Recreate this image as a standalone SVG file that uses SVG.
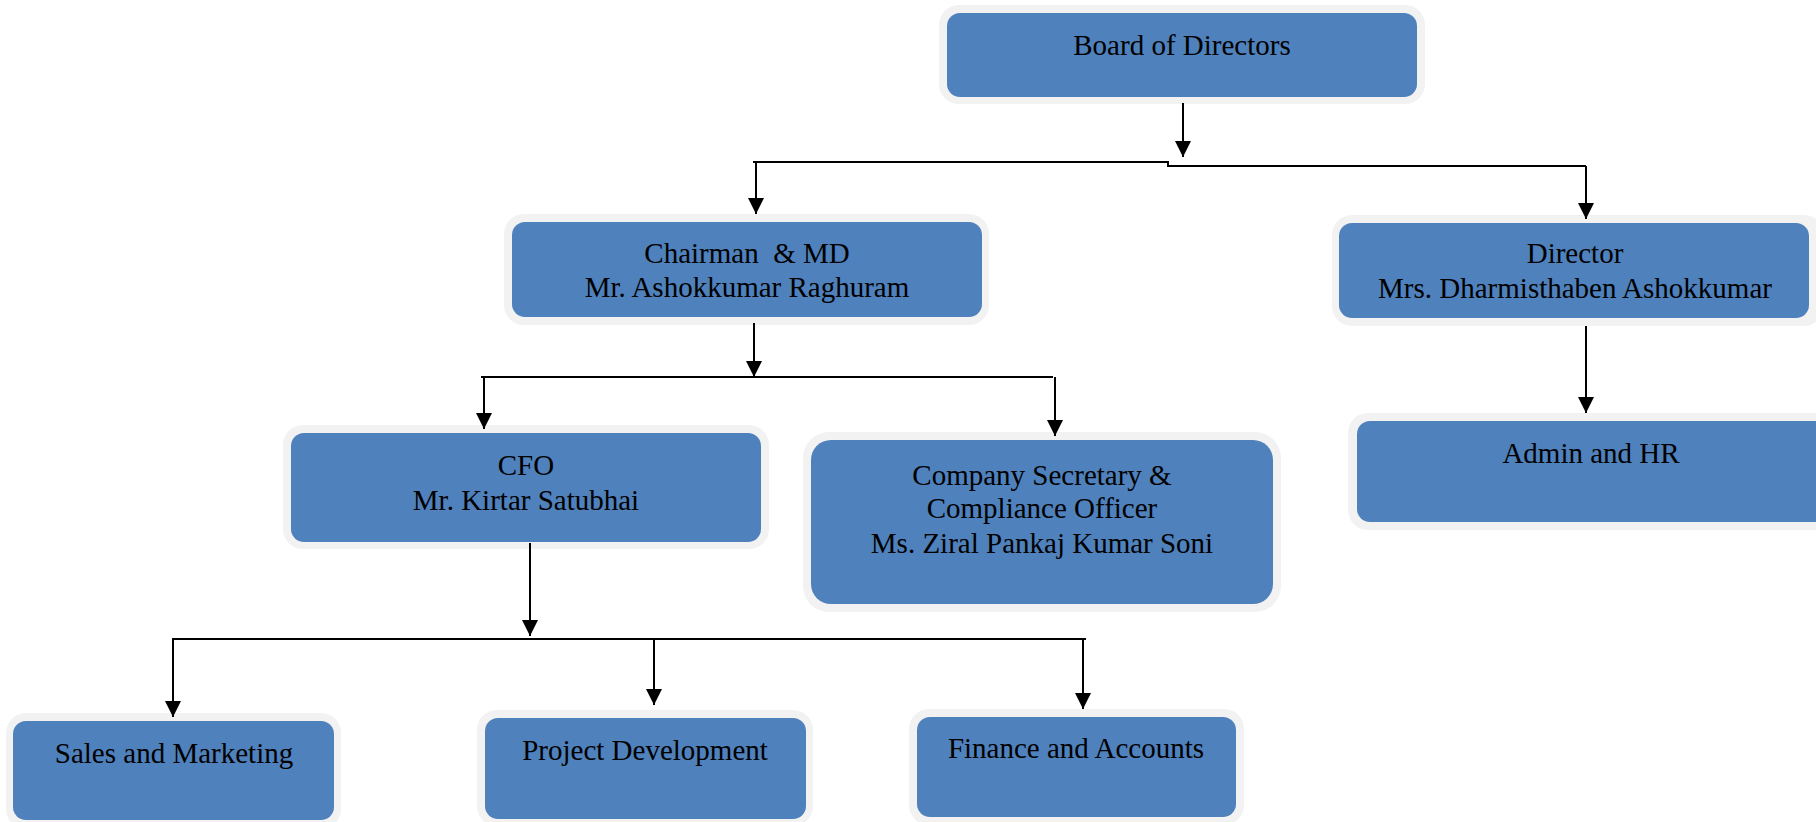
<svg xmlns="http://www.w3.org/2000/svg" width="1816" height="822" viewBox="0 0 1816 822">
  <style>
    .halo { fill: #F2F2F2; }
    .box { fill: #4F81BD; }
    .lbl { font-family: "Liberation Serif", "Times New Roman", serif; font-size: 29px; fill: #000; text-anchor: middle; white-space: pre; }
    .wire { fill: none; stroke: #000; stroke-width: 2; }
    .arrow { fill: none; stroke: #000; stroke-width: 2; marker-end: url(#tip); }
  </style>
  <defs>
    <marker id="tip" markerUnits="userSpaceOnUse" markerWidth="16" markerHeight="16" refX="16" refY="8" orient="auto">
      <path d="M0,0 L16,8 L0,16 z" fill="#000"/>
    </marker>
  </defs>
  <rect width="1816" height="822" fill="#fff"/>

  <g id="board">
    <rect class="halo" x="939" y="5" width="486" height="99" rx="20"/>
    <rect class="box" x="947" y="13" width="470" height="84" rx="13"/>
    <text class="lbl" x="1182" y="55">Board of Directors</text>
  </g>

  <g id="chairman">
    <rect class="halo" x="504" y="214" width="485" height="111" rx="20"/>
    <rect class="box" x="512" y="222" width="470" height="95" rx="13"/>
    <text class="lbl" x="747" y="263">Chairman  &amp; MD</text>
    <text class="lbl" x="747" y="297">Mr. Ashokkumar Raghuram</text>
  </g>

  <g id="director">
    <rect class="halo" x="1332" y="215" width="492" height="111" rx="20"/>
    <rect class="box" x="1339" y="223" width="470" height="95" rx="13"/>
    <text class="lbl" x="1575" y="263">Director</text>
    <text class="lbl" x="1575" y="298">Mrs. Dharmisthaben Ashokkumar</text>
  </g>

  <g id="admin-hr">
    <rect class="halo" x="1348" y="413" width="500" height="117" rx="20"/>
    <rect class="box" x="1357" y="421" width="480" height="101" rx="13"/>
    <text class="lbl" x="1591" y="463">Admin and HR</text>
  </g>

  <g id="cfo">
    <rect class="halo" x="283" y="425" width="486" height="124" rx="20"/>
    <rect class="box" x="291" y="433" width="470" height="109" rx="13"/>
    <text class="lbl" x="526" y="475">CFO</text>
    <text class="lbl" x="526" y="510">Mr. Kirtar Satubhai</text>
  </g>

  <g id="company-secretary">
    <rect class="halo" x="803" y="432" width="478" height="180" rx="26"/>
    <rect class="box" x="811" y="440" width="462" height="164" rx="20"/>
    <text class="lbl" x="1042" y="485">Company Secretary &amp;</text>
    <text class="lbl" x="1042" y="518">Compliance Officer</text>
    <text class="lbl" x="1042" y="553">Ms. Ziral Pankaj Kumar Soni</text>
  </g>

  <g id="sales-marketing">
    <rect class="halo" x="6" y="713" width="335" height="116" rx="20"/>
    <rect class="box" x="13" y="721" width="321" height="99" rx="13"/>
    <text class="lbl" x="174" y="763">Sales and Marketing</text>
  </g>

  <g id="project-development">
    <rect class="halo" x="477" y="710" width="336" height="116" rx="20"/>
    <rect class="box" x="485" y="718" width="321" height="101" rx="13"/>
    <text class="lbl" x="645" y="760">Project Development</text>
  </g>

  <g id="finance-accounts">
    <rect class="halo" x="909" y="709" width="335" height="116" rx="20"/>
    <rect class="box" x="917" y="717" width="319" height="100" rx="13"/>
    <text class="lbl" x="1076" y="758">Finance and Accounts</text>
  </g>

  <g id="connectors">
    <!-- board to the two directors -->
    <path class="arrow" d="M1183,103 V157"/>
    <path class="wire" d="M753,162 H1168 V166 H1586"/>
    <path class="arrow" d="M756,162 V214"/>
    <path class="arrow" d="M1586,166 V219"/>
    <!-- chairman to CFO and company secretary -->
    <path class="arrow" d="M754,323 V377"/>
    <path class="wire" d="M481,377 H1053"/>
    <path class="arrow" d="M484,377 V429"/>
    <path class="arrow" d="M1055,377 V436"/>
    <!-- director to admin -->
    <path class="arrow" d="M1586,326 V413"/>
    <!-- CFO to departments -->
    <path class="arrow" d="M530,543 V636"/>
    <path class="wire" d="M172,639 H1086"/>
    <path class="arrow" d="M173,639 V717"/>
    <path class="arrow" d="M654,639 V705"/>
    <path class="arrow" d="M1083,639 V709"/>
  </g>
</svg>
